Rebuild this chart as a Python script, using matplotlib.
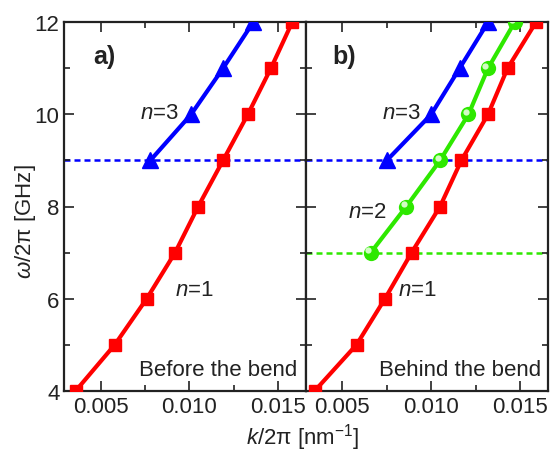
import matplotlib
matplotlib.use("Agg")
import matplotlib.pyplot as plt
from matplotlib.ticker import MultipleLocator
from matplotlib.transforms import ScaledTranslation

plt.rcParams['font.family'] = ['Liberation Sans', 'DejaVu Sans']
plt.rcParams['mathtext.fontset'] = 'custom'
plt.rcParams['mathtext.rm'] = 'Liberation Sans'
plt.rcParams['mathtext.it'] = 'Liberation Sans:italic'
plt.rcParams['mathtext.bf'] = 'Liberation Sans:bold'

# ---- data ----
omega_n1 = [4, 5, 6, 7, 8, 9, 10, 11, 12]
k_n1_before = [0.0036, 0.0058, 0.0076, 0.0092, 0.0105, 0.0119, 0.0133, 0.0146, 0.0158]
omega_n3 = [9, 10, 11, 12]
k_n3_before = [0.0078, 0.0101, 0.0119, 0.0136]

k_n1_behind = [0.00345, 0.0058, 0.0074, 0.0089, 0.0105, 0.0117, 0.0132, 0.0143, 0.0159]
omega_n2 = [7, 8, 9, 10, 11, 12]
k_n2_behind = [0.0066, 0.0086, 0.0105, 0.0121, 0.0132, 0.0147]
k_n3_behind = [0.0075, 0.0100, 0.0116, 0.0132]

cut_n3 = 9
cut_n2 = 7

xticks = [0.005, 0.010, 0.015]
xticklabels = ['0.005', '0.010', '0.015']
yticks = [4, 6, 8, 10, 12]

RED = '#ff0000'
BLUE = '#0000ff'
GREEN = '#2ee800'

W, H = 550, 452
fig = plt.figure(figsize=(W / 100, H / 100), dpi=100)
x0, x1, x2 = 64.3, 306, 548
ytop, ybot = 23.3, 391.7
ax1 = fig.add_axes([x0 / W, 1 - ybot / H, (x1 - x0) / W, (ybot - ytop) / H])
ax2 = fig.add_axes([x1 / W, 1 - ybot / H, (x2 - x1) / W, (ybot - ytop) / H])

fs = 16
for ax in (ax1, ax2):
    ax.set_xlim(0.00295, 0.01658)
    ax.set_ylim(4, 12)
    ax.set_xticks(xticks)
    ax.set_xticklabels(xticklabels)
    ax.set_yticks(yticks)
    ax.xaxis.set_minor_locator(MultipleLocator(0.0025))
    ax.yaxis.set_minor_locator(MultipleLocator(1))
    ax.tick_params(which='both', direction='in', top=True, right=True,
                   labelsize=fs, width=1.2, color='#222222', labelcolor='#222222')
    ax.tick_params(which='major', length=7)
    ax.tick_params(which='minor', length=4)
    for s in ax.spines.values():
        s.set_linewidth(1.6)
        s.set_color('#222222')

ax2.tick_params(labelleft=False)

lw = 3.0
dash = (0, (2.4, 1.6))
# panel a
ax1.axhline(cut_n3, color=BLUE, ls=dash, lw=1.8, zorder=1)
ax1.plot(k_n1_before, omega_n1, color=RED, lw=lw, marker='s', ms=9, zorder=3)
ax1.plot(k_n3_before, omega_n3, color=BLUE, lw=lw, marker='^', ms=11, zorder=3)

# panel b
ax2.axhline(cut_n3, color=BLUE, ls=dash, lw=1.8, zorder=1)
ax2.axhline(cut_n2, color=GREEN, ls=dash, lw=1.8, zorder=1)
ax2.plot(k_n1_behind, omega_n1, color=RED, lw=lw, marker='s', ms=9, zorder=3)
ax2.plot(k_n2_behind, omega_n2, color=GREEN, lw=lw, marker='o', ms=11,
         markeredgewidth=0, zorder=3)
hl = ax2.transData + ScaledTranslation(-1.8 / 72, 1.8 / 72, fig.dpi_scale_trans)
ax2.plot(k_n2_behind, omega_n2, ls='none', marker='o', ms=4.5,
         color='#e6ffdc', markeredgewidth=0, zorder=4, transform=hl, alpha=0.9)
ax2.plot(k_n3_behind, omega_n3, color=BLUE, lw=lw, marker='^', ms=11, zorder=3)

tc = '#222222'
ax1.text(0.12, 0.89, 'a)', transform=ax1.transAxes, fontsize=18, fontweight='bold', color=tc)
ax2.text(0.11, 0.89, 'b)', transform=ax2.transAxes, fontsize=18, fontweight='bold', color=tc)

ax1.text(0.0083, 10.05, r'$n$=3', fontsize=fs, color=tc, ha='center', va='center')
ax1.text(0.0103, 6.2, r'$n$=1', fontsize=fs, color=tc, ha='center', va='center')
ax1.text(0.965, 0.03, 'Before the bend', transform=ax1.transAxes, fontsize=fs,
         ha='right', va='bottom', color=tc)

ax2.text(0.0083, 10.05, r'$n$=3', fontsize=fs, color=tc, ha='center', va='center')
ax2.text(0.0064, 7.9, r'$n$=2', fontsize=fs, color=tc, ha='center', va='center')
ax2.text(0.0092, 6.2, r'$n$=1', fontsize=fs, color=tc, ha='center', va='center')
ax2.text(0.97, 0.03, 'Behind the bend', transform=ax2.transAxes, fontsize=fs,
         ha='right', va='bottom', color=tc)

fig.text(25 / W, 1 - 222 / H, r'$\omega$/2π [GHz]', rotation=90, fontsize=fs,
         ha='center', va='center', color=tc)
fig.text(303 / W, 1 - 438 / H, r'$k$/2π [nm$^{-1}$]', fontsize=fs,
         ha='center', va='center', color=tc)

fig.savefig('out.png', dpi=100)
